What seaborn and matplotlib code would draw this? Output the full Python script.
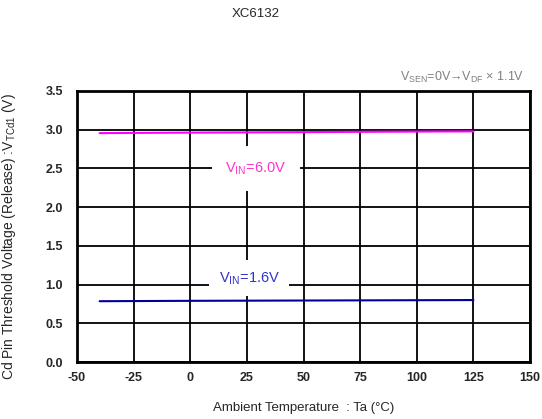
import matplotlib
matplotlib.use("Agg")
import matplotlib.pyplot as plt
import seaborn as sns
import pandas as pd

temps = [-40, -25, 0, 25, 50, 75, 100, 125]
v_6_0 = [2.955, 2.958, 2.962, 2.965, 2.968, 2.972, 2.975, 2.978]
v_1_6 = [0.785, 0.787, 0.790, 0.792, 0.794, 0.796, 0.798, 0.800]
x_ticks = [-50, -25, 0, 25, 50, 75, 100, 125, 150]
y_ticks = [0.0, 0.5, 1.0, 1.5, 2.0, 2.5, 3.0, 3.5]

df = pd.DataFrame({
    "Ta": temps * 2,
    "V": v_6_0 + v_1_6,
    "series": ["6.0"] * len(temps) + ["1.6"] * len(temps),
})

sns.set_style("white")
plt.rcParams["font.family"] = ["Liberation Sans", "DejaVu Sans"]
plt.rcParams["mathtext.fontset"] = "custom"
plt.rcParams["mathtext.rm"] = "Liberation Sans"

fig = plt.figure(figsize=(5.42, 4.19), dpi=100)
ax = fig.add_axes([0.142, 0.136, 0.836, 0.647])

sns.lineplot(data=df, x="Ta", y="V", hue="series",
             palette={"6.0": "#ff00ff", "1.6": "#000099"},
             linewidth=1.5, legend=False, ax=ax, zorder=3)

ax.set_xlim(-50, 150)
ax.set_ylim(0, 3.5)
ax.set_xticks(x_ticks)
ax.set_yticks(y_ticks)
ax.set_xticklabels([str(t) for t in x_ticks], fontsize=9, fontweight="bold")
ax.set_yticklabels([f"{t:.1f}" for t in y_ticks], fontsize=9, fontweight="bold")
ax.tick_params(axis="x", length=0, pad=7)
ax.tick_params(axis="y", length=0, pad=10)
ax.grid(True, color="black", linewidth=1.3)
for s in ax.spines.values():
    s.set_color("black")
    s.set_linewidth(2)

ax.set_xlabel("Ambient Temperature  : Ta (\u00b0C)", fontsize=9.5, labelpad=13)
ax.set_ylabel(r"Cd Pin Threshold Voltage (Release) :V$_{\mathrm{TCd1}}$ (V)",
              fontsize=10)
ax.yaxis.set_label_coords((18 - 77) / 453, (362 - 237) / 271)

ax.text(29, 2.5, r"V$_{\mathrm{IN}}$=6.0V", color="#ff33cc", fontsize=10.5,
        ha="center", va="center", zorder=4,
        bbox=dict(facecolor="white", edgecolor="none", pad=10))
ax.text(26, 1.08, r"V$_{\mathrm{IN}}$=1.6V", color="#3333cc", fontsize=10.5,
        ha="center", va="center", zorder=4,
        bbox=dict(facecolor="white", edgecolor="none", pad=7))

fig.text(256 / 542, 1 - 14 / 419, "XC6132", fontsize=9.5, ha="center", va="center")
fig.text(524 / 542, 1 - 77 / 419,
         "V$_{\\mathrm{SEN}}$=0V\u2192V$_{\\mathrm{DF}}$ \u00d7 1.1V",
         fontsize=9, color="#808080", ha="right", va="center")

fig.savefig("out.png", dpi=100, facecolor="white")
